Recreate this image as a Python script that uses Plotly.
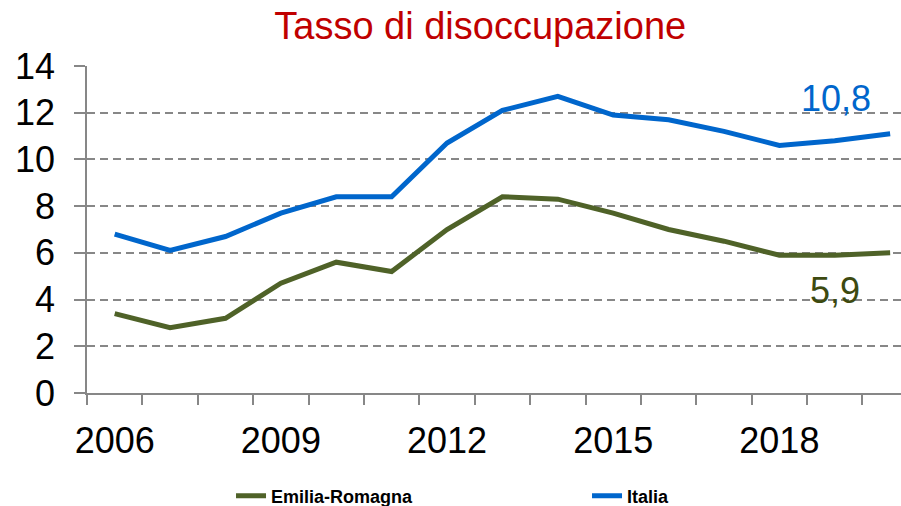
import plotly.graph_objects as go

years = list(range(2006, 2021))
emilia_romagna = [3.4, 2.8, 3.2, 4.7, 5.6, 5.2, 7.0, 8.4, 8.3, 7.7, 7.0, 6.5, 5.9, 5.9, 6.0]
italia = [6.8, 6.1, 6.7, 7.7, 8.4, 8.4, 10.7, 12.1, 12.7, 11.9, 11.7, 11.2, 10.6, 10.8, 11.1]
tick_years = [2006, 2009, 2012, 2015, 2018]
tick_labels = ["2006", "2009", "2012", "2015", "2018"]
label_year = 2019

GREEN = "#4F6228"
BLUE = "#0066CC"
GRAY = "#878787"
FONT = "Liberation Sans, Arial, sans-serif"

fig = go.Figure()
fig.add_trace(go.Scatter(x=years, y=emilia_romagna, mode="lines", name="Emilia-Romagna",
                         line=dict(color=GREEN, width=5)))
fig.add_trace(go.Scatter(x=years, y=italia, mode="lines", name="Italia",
                         line=dict(color=BLUE, width=5)))

i = years.index(label_year)
fig.add_annotation(x=label_year, y=italia[i], text=f"{italia[i]:.1f}".replace(".", ","),
                   showarrow=False, yshift=42, xshift=1,
                   font=dict(family=FONT, size=36, color=BLUE))
fig.add_annotation(x=label_year, y=emilia_romagna[i], text=f"{emilia_romagna[i]:.1f}".replace(".", ","),
                   showarrow=False, yshift=-35, xshift=0,
                   font=dict(family=FONT, size=36, color="#3D4A10"))

fig.update_layout(
    width=901, height=506,
    margin=dict(l=87, r=0, t=66, b=113, autoexpand=False),
    paper_bgcolor="white", plot_bgcolor="white",
    title=dict(text="Tasso di disoccupazione", x=0.533, xanchor="center",
               y=0.95, yanchor="middle", yref="container", automargin=False,
               font=dict(family=FONT, size=38, color="#C00000")),
    showlegend=True,
    legend=dict(orientation="h", xref="container", yref="paper",
                x=0.2564, y=-0.315, xanchor="left", yanchor="middle",
                entrywidth=311, entrywidthmode="pixels",
                font=dict(family=FONT, size=18, color="black", weight="bold"),
                bgcolor="rgba(0,0,0,0)"),
    xaxis=dict(range=[2005.5, 2020.196], tickmode="array", tickvals=tick_years, ticktext=tick_labels,
               ticks="outside", ticklen=10, tickcolor="rgba(0,0,0,0)", automargin=False,
               showline=True, linecolor=GRAY, linewidth=1.5,
               showgrid=False, zeroline=False, ticklabelstandoff=5,
               tickfont=dict(family=FONT, size=36, color="black"),
               minor=dict(tickmode="array", tickvals=[y - 0.5 for y in years],
                          ticks="outside", ticklen=10, tickcolor=GRAY, tickwidth=1.5, showgrid=False)),
    yaxis=dict(range=[0, 14], tickvals=[0, 2, 4, 6, 8, 10, 12, 14], ticks="outside", ticklen=11,
               tickcolor=GRAY, tickwidth=1.5, automargin=False,
               showline=True, linecolor=GRAY, linewidth=1.5,
               showgrid=True, gridcolor=GRAY, gridwidth=1.5, griddash="8px,5px",
               zeroline=False, ticklabelstandoff=12,
               tickfont=dict(family=FONT, size=36, color="black")),
)

fig.write_html("out.html", config={"displayModeBar": False},
               post_script="document.body.style.margin='0';")
